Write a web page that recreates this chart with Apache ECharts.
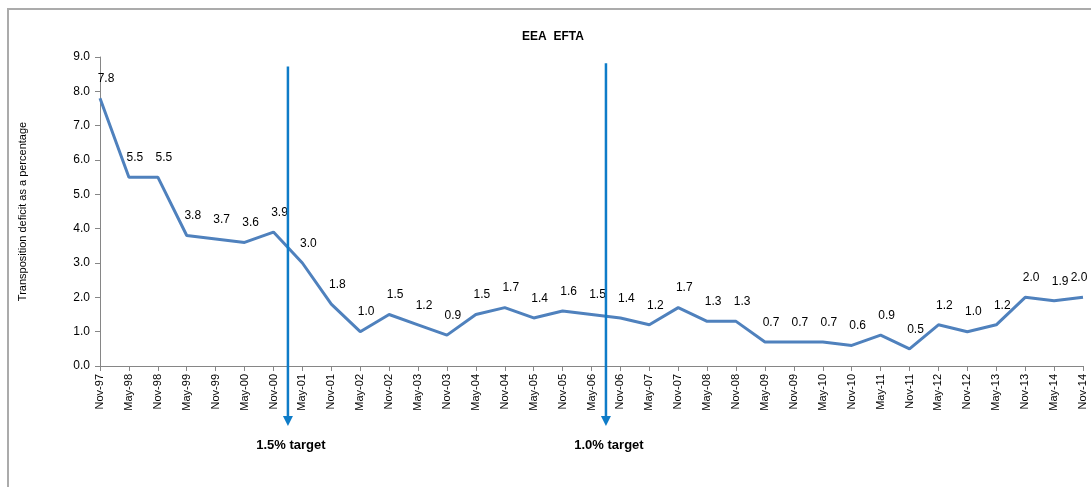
<!DOCTYPE html>
<html>
<head>
<meta charset="utf-8">
<script src="https://cdn.jsdelivr.net/npm/echarts@6/dist/echarts.min.js"></script>
<style>html,body{margin:0;padding:0;background:#fff;}#c{width:1091px;height:487px;}</style>
</head>
<body>
<div id="c"></div>
<script>
const categories = ['Nov-97','May-98','Nov-98','May-99','Nov-99','May-00','Nov-00','May-01','Nov-01','May-02','Nov-02','May-03','Nov-03','May-04','Nov-04','May-05','Nov-05','May-06','Nov-06','May-07','Nov-07','May-08','Nov-08','May-09','Nov-09','May-10','Nov-10','May-11','Nov-11','May-12','Nov-12','May-13','Nov-13','May-14','Nov-14'];
const deficit = [7.8,5.5,5.5,3.8,3.7,3.6,3.9,3.0,1.8,1.0,1.5,1.2,0.9,1.5,1.7,1.4,1.6,1.5,1.4,1.2,1.7,1.3,1.3,0.7,0.7,0.7,0.6,0.9,0.5,1.2,1.0,1.2,2.0,1.9,2.0];
const targets = [
  {label: '1.5% target', between: ['Nov-00','May-01'], top: 8.72},
  {label: '1.0% target', between: ['May-06','Nov-06'], top: 8.82}
];
const arrowBottom = -1.75;
const labelValue = -2.3;

const chart = echarts.init(document.getElementById('c'), null, {renderer: 'canvas'});
const font = 'Arial, "Liberation Sans", sans-serif';
const seriesData = deficit.map((v, i) => i === deficit.length - 1
  ? {value: v, label: {offset: [-4, -8]}}
  : v);
chart.setOption({
  animation: false,
  title: {
    text: 'EEA  EFTA', left: 548, top: 26, textAlign: 'center',
    textStyle: {fontFamily: font, fontSize: 12, fontWeight: 'bold', color: '#000'}
  },
  grid: {left: 100, right: 8, top: 57, bottom: 121, containLabel: false},
  xAxis: {
    type: 'category', data: categories, boundaryGap: false,
    axisLine: {lineStyle: {color: '#868686', width: 1}},
    axisTick: {show: true, alignWithLabel: true, length: 5, lineStyle: {color: '#868686'}},
    axisLabel: {rotate: 90, interval: 0, fontFamily: font, fontSize: 11, color: '#000', margin: 8}
  },
  yAxis: {
    type: 'value', min: 0, max: 9, interval: 1,
    name: 'Transposition deficit as a percentage', nameLocation: 'middle', nameGap: 72,
    nameTextStyle: {fontFamily: font, fontSize: 11, color: '#000'},
    axisLine: {show: true, lineStyle: {color: '#868686'}},
    axisTick: {show: true, length: 5, lineStyle: {color: '#868686'}},
    splitLine: {show: false},
    axisLabel: {formatter: v => v.toFixed(1), fontFamily: font, fontSize: 12, color: '#000', margin: 10}
  },
  series: [{
    type: 'line', data: seriesData, symbol: 'circle', symbolSize: 1, showSymbol: true,
    itemStyle: {color: 'rgba(0,0,0,0)'},
    lineStyle: {color: '#4F81BD', width: 3},
    label: {show: true, position: 'top', distance: 5, offset: [6, -8],
      formatter: p => Number(p.value).toFixed(1), fontFamily: font, fontSize: 12, color: '#000'}
  }]
});

const graphics = [{
  type: 'rect', shape: {x: 8, y: 9, width: 1200, height: 600},
  style: {fill: 'none', stroke: '#ababab', lineWidth: 2}, z: -1
}];
targets.forEach(t => {
  const x1 = chart.convertToPixel({xAxisIndex: 0}, t.between[0]);
  const x2 = chart.convertToPixel({xAxisIndex: 0}, t.between[1]);
  const x = (x1 + x2) / 2;
  const yTop = chart.convertToPixel({yAxisIndex: 0}, t.top);
  const yBot = chart.convertToPixel({yAxisIndex: 0}, arrowBottom);
  const yLab = chart.convertToPixel({yAxisIndex: 0}, labelValue);
  graphics.push({
    type: 'line', shape: {x1: x, y1: yTop, x2: x, y2: yBot - 8},
    style: {stroke: '#0E7CC8', lineWidth: 2.5}, z: 10
  });
  graphics.push({
    type: 'polygon', shape: {points: [[x - 5, yBot - 10], [x + 5, yBot - 10], [x, yBot]]},
    style: {fill: '#0E7CC8'}, z: 10
  });
  graphics.push({
    type: 'text', x: x + 3, y: yLab,
    style: {text: t.label, fontFamily: font, fontSize: 13, fontWeight: 'bold', fill: '#000',
      align: 'center', verticalAlign: 'middle'}, z: 10
  });
});
chart.setOption({graphic: graphics});
</script>
</body>
</html>
